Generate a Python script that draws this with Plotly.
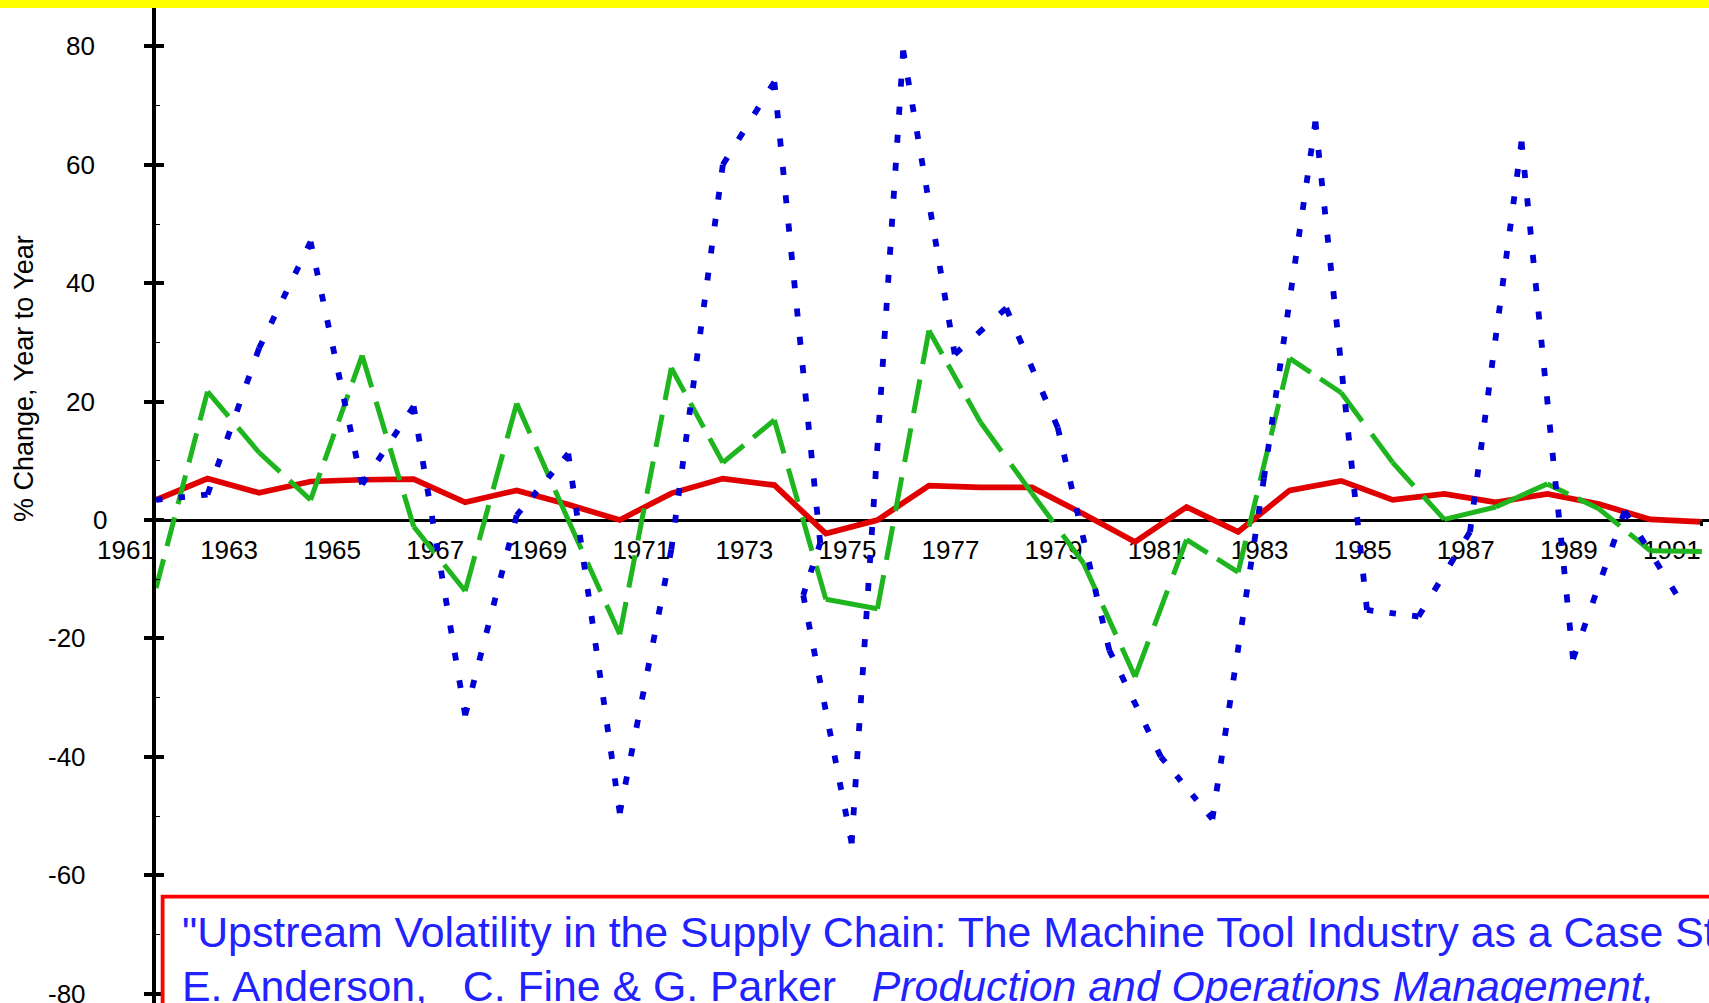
import math
import plotly.graph_objects as go

# ---------------- data ----------------
years = list(range(1961, 1992))
red_vals = [3.4, 7.0, 4.6, 6.5, 6.8, 6.9, 3.0, 5.0, 2.6, 0.0,
            4.5, 7.0, 5.9, -2.3, 0.0, 5.8, 5.5, 5.5, 1.0, -3.7,
            2.2, -2.0, 5.0, 6.6, 3.4, 4.4, 3.0, 4.4, 2.7, 0.1, -0.3]
green_vals = [-11.5, 21.7, 11.4, 3.4, 27.8, -1.1, -12.0, 19.7, 0.0, -19.3,
              25.7, 9.7, 16.9, -13.4, -15.0, 32.0, 16.5, 4.5, -7.3, -26.5,
              -3.3, -8.8, 27.3, 21.5, 9.7, 0.1, 2.2, 6.1, 1.9, -5.2, -5.3]
blue_years = [1961, 1962, 1963, 1964, 1965, 1966, 1967, 1968, 1969, 1970,
              1971, 1972, 1973, 1973.89, 1973.56, 1974.5, 1975.5, 1976.5, 1977.5,
              1978.5, 1979.5, 1980.5, 1981.5, 1982.5, 1983.5, 1984.5, 1985.5,
              1986.5, 1987.5, 1988.5, 1989.5, 1990.5]
blue_vals = [3.4, 4.3, 29.0, 47.0, 6.0, 19.2, -33.0, 0.8, 11.2, -49.5,
             -5.0, 60.0, 74.0, -3.9, -12.7, -54.6, 79.3, 28.0, 35.8,
             15.6, -22.0, -40.0, -50.5, 7.0, 67.3, -15.2, -16.3,
             -2.0, 63.9, -23.5, 1.5, -12.5]

x_tick_years = list(range(1961, 1992, 2))
x_tick_text = [str(y) for y in x_tick_years]
y_tick_vals = [80, 60, 40, 20, 0, -20, -40, -60, -80]
y_tick_text = [str(v) for v in y_tick_vals]

y_title = "% Change, Year to Year"
caption_line1 = "\"Upstream Volatility in the Supply Chain: The Machine Tool Industry as a Case Study,\""
caption_line2 = ("E. Anderson,\u00a0\u00a0 C. Fine &amp; G. Parker\u00a0\u00a0\u00a0"
                 "<i>Production and Operations Management,</i>")

# ---------------- geometry ----------------
W, H = 1709, 1003
L = 156
PX_PER_UNIT = 5.92
Y_TOP = 520 / PX_PER_UNIT
Y_BOT = -(H - 520) / PX_PER_UNIT
PX_PER_YEAR = 51.53
X_END = 1961 + (W - L) / PX_PER_YEAR
X_POS = (-Y_BOT) / (Y_TOP - Y_BOT)

FONT = "Liberation Sans, Arial, sans-serif"
RED, GREEN, BLUE = "#e00000", "#1fb51f", "#0000d4"


def fitted_dash(x0, y0, x1, y1, dash, gap):
    """dash pattern stretched so that a segment starts and ends with a dash"""
    length = math.hypot((x1 - x0) * PX_PER_YEAR, (y1 - y0) * PX_PER_UNIT)
    n = max(0, round((length - dash) / (dash + gap)))
    s = length / (n * (dash + gap) + dash)
    return f"{dash * s:.2f}px,{gap * s:.2f}px"


def add_segmented(fig, xs, ys, color, width, dash, gap):
    for i in range(len(xs) - 1):
        fig.add_trace(go.Scatter(
            x=xs[i:i + 2], y=ys[i:i + 2], mode="lines", showlegend=False,
            hoverinfo="skip",
            line=dict(color=color, width=width,
                      dash=fitted_dash(xs[i], ys[i], xs[i + 1], ys[i + 1], dash, gap))))


fig = go.Figure()
fig.add_trace(go.Scatter(x=years, y=red_vals, mode="lines", showlegend=False,
                         line=dict(color=RED, width=5.7)))
add_segmented(fig, years, green_vals, GREEN, 5, 33, 15)
add_segmented(fig, blue_years, blue_vals, BLUE, 5.8, 8, 20)
# empty traces so that the helper axes are drawn
fig.add_trace(go.Scatter(x=[None], y=[None], yaxis="y2", showlegend=False, hoverinfo="skip"))
fig.add_trace(go.Scatter(x=[None], y=[None], xaxis="x2", showlegend=False, hoverinfo="skip"))

annotations = []
# y tick labels
for v, t in zip(y_tick_vals, y_tick_text):
    if v > 0:
        right = 96.6
    elif v == 0:
        right = 108.5
    else:
        right = 87.5
    annotations.append(dict(x=0, y=v, xref="paper", yref="y", text=t, showarrow=False,
                            xanchor="right", yanchor="middle", xshift=right - L,
                            font=dict(family=FONT, size=26, color="black")))
# y axis title
annotations.append(dict(x=0, y=(520 - 379) / PX_PER_UNIT, xref="paper", yref="y",
                        text=y_title, showarrow=False, textangle=-90,
                        xanchor="center", yanchor="middle", xshift=24 - L,
                        font=dict(family=FONT, size=27, color="black")))
# caption
annotations.append(dict(x=0, y=(520 - 932.3) / PX_PER_UNIT, xref="paper", yref="y",
                        text=caption_line1, showarrow=False, xanchor="left",
                        yanchor="middle", xshift=180 - L,
                        font=dict(family=FONT, size=42.8, color="#2222ff")))
annotations.append(dict(x=0, y=(520 - 985.6) / PX_PER_UNIT, xref="paper", yref="y",
                        text=caption_line2, showarrow=False, xanchor="left",
                        yanchor="middle", xshift=180 - L,
                        font=dict(family=FONT, size=42.8, color="#2222ff")))

shapes = [
    dict(type="rect", xref="paper", yref="y",
         x0=(162.6 - L) / (W - L), x1=1.2,
         y0=-120, y1=(520 - 896.7) / PX_PER_UNIT,
         line=dict(color="#ff0000", width=3.8), fillcolor="white", layer="above"),
    dict(type="rect", xref="paper", yref="paper",
         x0=-0.2, x1=1.2, y0=1 - 8.0 / H, y1=1.02,
         line=dict(width=0), fillcolor="#ffff00", layer="above"),
]

fig.update_layout(
    width=W, height=H,
    margin=dict(l=L, r=0, t=0, b=0, pad=0),
    paper_bgcolor="white", plot_bgcolor="white",
    showlegend=False,
    annotations=annotations,
    shapes=shapes,
    xaxis=dict(range=[1961, X_END], anchor="free", position=X_POS,
               showline=True, linecolor="black", linewidth=3,
               tickmode="array", tickvals=x_tick_years, ticktext=x_tick_text,
               ticks="", showticklabels=True, ticklabelshift=-30,
               ticklabelstandoff=6, layer="below traces",
               tickfont=dict(family=FONT, size=26, color="black"),
               showgrid=False, zeroline=False),
    xaxis2=dict(range=[1961, X_END], overlaying="x", anchor="free", position=X_POS,
                tickmode="array", tickvals=[1991], ticks="outside", ticklen=5,
                tickwidth=3, tickcolor="black", showline=False,
                showticklabels=False, showgrid=False, zeroline=False),
    yaxis=dict(range=[Y_BOT, Y_TOP], showline=True, linecolor="black", linewidth=3.6,
               tickmode="array", tickvals=y_tick_vals, ticks="outside",
               ticklen=8, tickwidth=3.5, tickcolor="black",
               minor=dict(tickmode="array", tickvals=[70, 50, 30, 10, -10, -30, -50, -70],
                          ticks="inside", ticklen=4, tickwidth=1.2, tickcolor="black"),
               showticklabels=False, showgrid=False, zeroline=False),
    yaxis2=dict(range=[Y_BOT, Y_TOP], overlaying="y", side="left", anchor="x",
                tickmode="array", tickvals=y_tick_vals, ticks="inside",
                ticklen=8, tickwidth=3.5, tickcolor="black",
                showline=False, showticklabels=False, showgrid=False, zeroline=False),
)

fig.write_html("out.html", config={"displayModeBar": False},
               post_script="document.body.style.margin='0';document.body.style.overflow='hidden';")
